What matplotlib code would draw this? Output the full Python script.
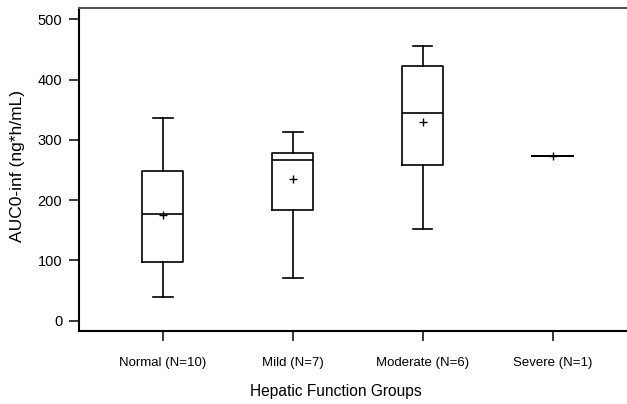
import matplotlib
matplotlib.use("Agg")
import matplotlib.pyplot as plt

groups = ["Normal (N=10)", "Mild (N=7)", "Moderate (N=6)", "Severe (N=1)"]
whislo = [39, 71, 152, 274]
q1 = [97, 184, 258, 274]
med = [177, 266, 345, 274]
q3 = [248, 278, 423, 274]
whishi = [337, 313, 456, 274]
means = [175, 235, 330, 274]
yticks = [0, 100, 200, 300, 400, 500]

plt.rcParams['font.family'] = ['Liberation Sans', 'DejaVu Sans']

fig = plt.figure(figsize=(6.27, 4.04), dpi=100)
ax = fig.add_axes([79/627, (404-331)/404, 1.0 - 79/627 + 0.01, (331-8)/404])

stats = []
for i in range(len(groups)):
    stats.append(dict(label=groups[i], whislo=whislo[i], q1=q1[i], med=med[i],
                      q3=q3[i], whishi=whishi[i], mean=means[i], fliers=[]))

lw = 1.2
positions = list(range(1, len(groups) + 1))
ax.bxp(stats[:3], positions=positions[:3], widths=0.316, showmeans=True,
       boxprops=dict(color='black', linewidth=lw),
       medianprops=dict(color='black', linewidth=lw),
       whiskerprops=dict(color='black', linewidth=lw),
       capprops=dict(color='black', linewidth=lw),
       capwidths=0.15,
       meanprops=dict(marker='+', markeredgecolor='black', markersize=6, markeredgewidth=1.0),
       showfliers=False)
# Severe: single value, a flat box
ax.bxp(stats[3:], positions=positions[3:], widths=0.316, showmeans=True,
       boxprops=dict(color='black', linewidth=lw),
       medianprops=dict(color='black', linewidth=lw),
       whiskerprops=dict(color='black', linewidth=lw),
       capprops=dict(linewidth=0),
       meanprops=dict(marker='+', markeredgecolor='black', markersize=6, markeredgewidth=1.0),
       showfliers=False)

ax.set_xlim(0.355, 4.62)
ax.set_ylim(-17, 518.6)
ax.set_yticks(yticks)
ax.set_xticks(positions)
ax.set_xticklabels(groups)
ax.tick_params(axis='both', direction='out', length=7, width=1.1, labelsize=9.5, pad=5)
ax.tick_params(axis='y', labelsize=10.5)
ax.tick_params(axis='x', pad=12)
for s in ['left', 'bottom']:
    ax.spines[s].set_linewidth(1.5)
ax.spines['top'].set_linewidth(1.5)
ax.spines['top'].set_color('#555555')
ax.spines['right'].set_visible(False)

ax.set_xlabel("Hepatic Function Groups", fontsize=11.2)
ax.xaxis.set_label_coords(0.464, -0.163)
ax.set_ylabel("AUC0-inf (ng*h/mL)", fontsize=12.5)
ax.yaxis.set_label_coords(-0.097, 0.51)

fig.savefig("out.png", dpi=100)
